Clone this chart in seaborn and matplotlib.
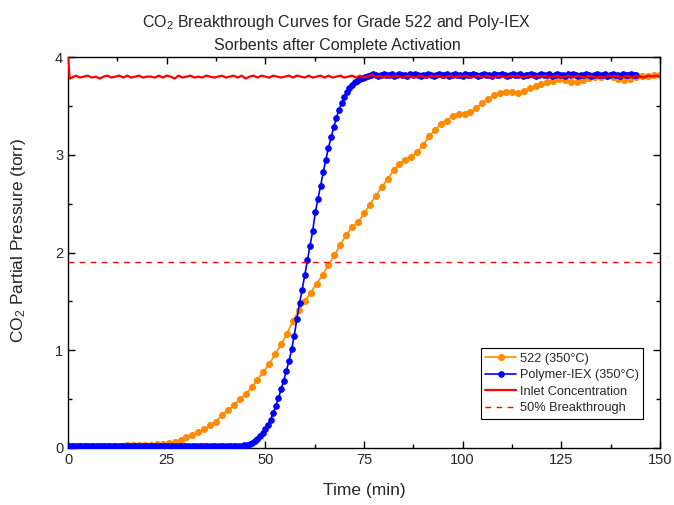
import numpy as np
import pandas as pd
import matplotlib
matplotlib.use('Agg')
import matplotlib.pyplot as plt
from matplotlib.ticker import MultipleLocator
import seaborn as sns

# ---- data ----
# Grade 522, sampled every 1.5 min
orange_step = 1.5
orange_vals = [0.02, 0.02, 0.02, 0.02, 0.02, 0.02, 0.02, 0.02, 0.02, 0.02,
               0.025, 0.025, 0.03, 0.03, 0.035, 0.04, 0.045, 0.05, 0.06, 0.08,
               0.11, 0.13, 0.16, 0.19, 0.23, 0.27, 0.34, 0.39, 0.44, 0.50,
               0.55, 0.62, 0.70, 0.78, 0.86, 0.96, 1.06, 1.17, 1.30, 1.41,
               1.50, 1.59, 1.68, 1.77, 1.87, 1.97, 2.08, 2.18, 2.26, 2.31,
               2.40, 2.49, 2.58, 2.67, 2.75, 2.84, 2.91, 2.95, 2.98, 3.03,
               3.10, 3.19, 3.25, 3.32, 3.35, 3.40, 3.42, 3.42, 3.44, 3.48,
               3.53, 3.57, 3.61, 3.63, 3.64, 3.64, 3.63, 3.65, 3.68, 3.70,
               3.72, 3.74, 3.76, 3.78, 3.77, 3.74, 3.74, 3.77, 3.79, 3.80,
               3.80, 3.81, 3.80, 3.78, 3.77, 3.78, 3.80, 3.81, 3.81, 3.82,
               3.82]

# Polymer-IEX, sampled every 40 s
blue_step = 2 / 3
blue_flat = [0.02, 0.02, 0.015, 0.02, 0.015, 0.02, 0.02, 0.015, 0.02, 0.02,
             0.015, 0.02, 0.02, 0.015, 0.02, 0.015, 0.02, 0.02, 0.015, 0.02,
             0.02, 0.015, 0.02, 0.02, 0.015, 0.02, 0.015, 0.02, 0.02, 0.015,
             0.02, 0.02, 0.015, 0.02, 0.015, 0.02, 0.02, 0.015, 0.02, 0.02,
             0.015, 0.02, 0.02, 0.015, 0.02, 0.015, 0.02, 0.02, 0.015, 0.02,
             0.02, 0.015, 0.02, 0.02, 0.015, 0.02, 0.015, 0.02, 0.02, 0.015,
             0.02, 0.02, 0.015, 0.02, 0.02]
blue_rise = [0.02, 0.02, 0.025, 0.03, 0.04, 0.055, 0.07, 0.095, 0.12, 0.15,
             0.19, 0.23, 0.29, 0.36, 0.43, 0.51, 0.60, 0.69, 0.79, 0.89,
             1.01, 1.15, 1.32, 1.48, 1.62, 1.77, 1.92, 2.07, 2.22, 2.41,
             2.55, 2.68, 2.82, 2.95, 3.07, 3.18, 3.28, 3.38, 3.46, 3.53,
             3.59, 3.64, 3.68, 3.71, 3.74, 3.76, 3.78, 3.79, 3.80, 3.81]
blue_plateau = [3.82, 3.83, 3.82, 3.81, 3.82, 3.83, 3.82, 3.82, 3.83, 3.81,
                3.82, 3.83, 3.82, 3.82, 3.81, 3.83, 3.82, 3.83, 3.82, 3.81,
                3.82, 3.82, 3.83, 3.82, 3.81, 3.82, 3.83, 3.82, 3.82, 3.83,
                3.81, 3.82, 3.83, 3.82, 3.82, 3.81, 3.83, 3.82, 3.82, 3.83,
                3.82, 3.81, 3.82, 3.83, 3.82, 3.82, 3.81, 3.83, 3.82, 3.82,
                3.83, 3.82, 3.81, 3.82, 3.83, 3.82, 3.82, 3.83, 3.81, 3.82,
                3.82, 3.83, 3.82, 3.81, 3.82, 3.83, 3.82, 3.82, 3.83, 3.81,
                3.82, 3.83, 3.82, 3.82, 3.81, 3.83, 3.82, 3.83, 3.82, 3.81,
                3.82, 3.82, 3.83, 3.82, 3.81, 3.82, 3.83, 3.82, 3.82, 3.83,
                3.81, 3.82, 3.83, 3.82, 3.82, 3.81, 3.83, 3.82, 3.82, 3.83,
                3.82, 3.82]

# Inlet concentration, noisy trace
inlet_time = [0, 0.4] + list(range(1, 151))
inlet_vals = [4.00, 3.78,
              3.79, 3.81, 3.79, 3.80, 3.81, 3.79, 3.80, 3.78, 3.80, 3.81,
              3.79, 3.80, 3.81, 3.79, 3.81, 3.79, 3.80, 3.81, 3.79, 3.80,
              3.80, 3.79, 3.81, 3.79, 3.81, 3.80, 3.78, 3.81, 3.79, 3.80,
              3.81, 3.79, 3.80, 3.79, 3.81, 3.80, 3.79, 3.80, 3.81, 3.79,
              3.80, 3.81, 3.79, 3.81, 3.78, 3.80, 3.81, 3.79, 3.81, 3.80,
              3.79, 3.81, 3.80, 3.79, 3.80, 3.81, 3.79, 3.81, 3.80, 3.79,
              3.81, 3.79, 3.80, 3.81, 3.79, 3.81, 3.79, 3.80, 3.81, 3.79,
              3.80, 3.81, 3.79, 3.81, 3.79, 3.80, 3.82, 3.79, 3.81, 3.79,
              3.81, 3.79, 3.81, 3.80, 3.79, 3.81, 3.80, 3.79, 3.81, 3.80,
              3.79, 3.81, 3.80, 3.81, 3.79, 3.80, 3.81, 3.79, 3.81, 3.80,
              3.81, 3.79, 3.80, 3.81, 3.79, 3.81, 3.80, 3.79, 3.81, 3.80,
              3.79, 3.81, 3.80, 3.81, 3.79, 3.80, 3.81, 3.79, 3.81, 3.80,
              3.81, 3.79, 3.80, 3.81, 3.79, 3.80, 3.81, 3.79, 3.81, 3.80,
              3.79, 3.81, 3.80, 3.79, 3.80, 3.79, 3.81, 3.80, 3.81, 3.79,
              3.80, 3.81, 3.79, 3.81, 3.80, 3.79, 3.81, 3.80, 3.81, 3.80]

half_level = 1.9
half_range = [0, 150]

labels = ['522 (350\u00b0C)', 'Polymer-IEX (350\u00b0C)',
          'Inlet Concentration', '50% Breakthrough']

# ---- build the frames ----
orange = pd.DataFrame({'t': np.arange(len(orange_vals)) * orange_step,
                       'p': orange_vals})
blue_vals = blue_flat + blue_rise + blue_plateau
blue = pd.DataFrame({'t': np.arange(len(blue_vals)) * blue_step,
                     'p': blue_vals})
inlet = pd.DataFrame({'t': inlet_time, 'p': inlet_vals})
half = pd.DataFrame({'t': half_range, 'p': [half_level, half_level]})

# ---- style ----
sns.set_style('ticks')
plt.rcParams['font.family'] = ['Liberation Sans', 'DejaVu Sans']
plt.rcParams['mathtext.fontset'] = 'custom'
plt.rcParams['mathtext.rm'] = 'Liberation Sans'
plt.rcParams['mathtext.it'] = 'Liberation Sans:italic'

fig, ax = plt.subplots(figsize=(6.74, 5.05), dpi=100)
fig.subplots_adjust(left=0.101, right=0.979, top=0.887, bottom=0.113)

sns.lineplot(data=orange, x='t', y='p', ax=ax, color='#ff8c00', lw=1.2,
             marker='o', markersize=4.3, markeredgecolor='#ff8c00',
             label=labels[0], zorder=2)
sns.lineplot(data=blue, x='t', y='p', ax=ax, color='#0000ff', lw=1.2,
             marker='o', markersize=4, markeredgecolor='#0000ff',
             label=labels[1], zorder=3)
sns.lineplot(data=inlet, x='t', y='p', ax=ax, color='#ff0000', lw=1.6,
             label=labels[2], zorder=4)
sns.lineplot(data=half, x='t', y='p', ax=ax, color='#ff0000', lw=1.0,
             dashes=False, label=labels[3], zorder=4)
ax.lines[-1].set_linestyle((0, (4, 4)))

ax.set_xlim(0, 150)
ax.set_ylim(0, 4)
ax.xaxis.set_major_locator(MultipleLocator(25))
ax.xaxis.set_minor_locator(MultipleLocator(12.5))
ax.yaxis.set_major_locator(MultipleLocator(1))
ax.yaxis.set_minor_locator(MultipleLocator(0.5))
ax.tick_params(which='both', direction='in', top=True, right=True,
               labelsize=10.5, width=1, color='black')
ax.tick_params(which='major', length=5)
ax.tick_params(which='minor', length=3)
for s in ax.spines.values():
    s.set_color('black')
    s.set_linewidth(1)

ax.set_xlabel('Time (min)', fontsize=12.5)
ax.set_ylabel('CO$_2$ Partial Pressure (torr)', fontsize=12.5)
ax.xaxis.set_label_coords(0.5, -0.09)
ax.yaxis.set_label_coords(-0.068, 0.53)

fig.text(0.5, 0.935, 'CO$_2$ Breakthrough Curves for Grade 522 and Poly-IEX\n'
         'Sorbents after Complete Activation', fontsize=11.5,
         ha='center', va='center', linespacing=1.5)

leg = ax.legend(loc='lower right', bbox_to_anchor=(0.972, 0.075),
                fontsize=9.2, frameon=True, fancybox=False, framealpha=1,
                edgecolor='black', handlelength=2.4, borderpad=0.35,
                labelspacing=0.35, handletextpad=0.3, borderaxespad=0)
leg.get_frame().set_linewidth(0.8)

plt.savefig('out.png', dpi=100)
